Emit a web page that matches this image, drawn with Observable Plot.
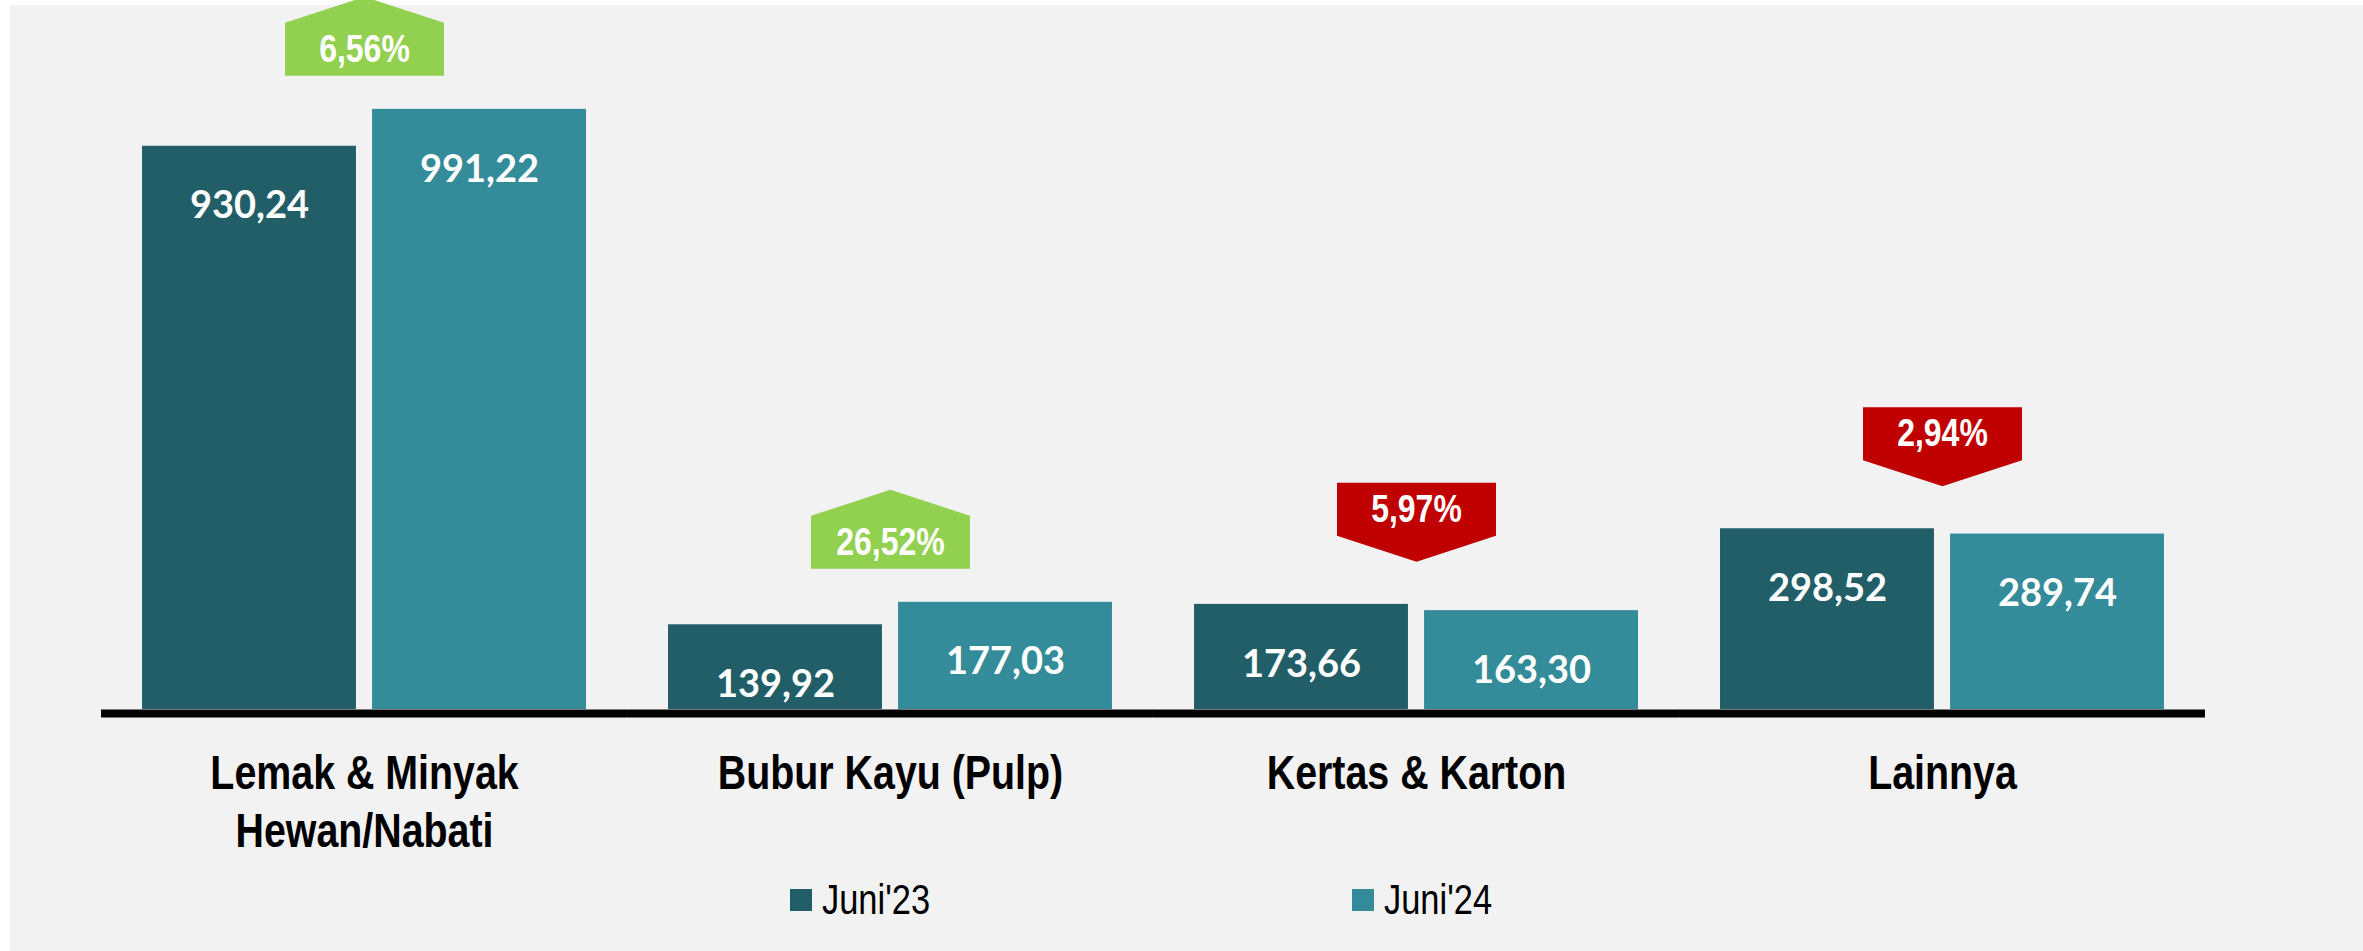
<!DOCTYPE html>
<html>
<head>
<meta charset="utf-8">
<script src="https://cdn.jsdelivr.net/npm/d3@7"></script>
<script src="https://cdn.jsdelivr.net/npm/@observablehq/plot@0.6"></script>
<style>
  html, body { margin: 0; padding: 0; background: #ffffff; overflow: hidden; }
  #bg { position: absolute; left: 10px; top: 5px; width: 2353px; height: 946px; background: #f2f2f2; }
  #chart { position: absolute; left: 0; top: 0; }
  #chart svg { overflow: visible; }
  .legend-item { position: absolute; top: 879px; display: flex; align-items: center; height: 42px;
    font-family: "Liberation Sans", Arial, sans-serif;
    font-size: 42px; line-height: 42px; color: #000; white-space: nowrap; }
  .legend-swatch { width: 22px; height: 22px; margin-right: 10px; flex: none; }
  .legend-text { display: inline-block; transform: scaleX(0.82); transform-origin: left center; }
</style>
</head>
<body>
<div id="bg"></div>
<div id="chart"></div>
<script>
// ---- data ----
const categories = ["Lemak & Minyak\nHewan/Nabati", "Bubur Kayu (Pulp)", "Kertas & Karton", "Lainnya"];
const series = ["Juni'23", "Juni'24"];
const juni23 = [930.24, 139.92, 173.66, 298.52];
const juni24 = [991.22, 177.03, 163.30, 289.74];
const changePct = [6.56, 26.52, -5.97, -2.94];
const seriesColors = ["#225e68", "#348b9a"];
const upColor = "#92d050";
const downColor = "#c00000";

// ---- derived tables ----
const rows = categories.flatMap((c, i) => [
  {category: c, series: series[0], value: juni23[i]},
  {category: c, series: series[1], value: juni24[i]}
]);
const badges = categories.map((c, i) => ({
  category: c,
  top: Math.max(juni23[i], juni24[i]),
  pct: changePct[i],
  label: Math.abs(changePct[i]).toFixed(2).replace(".", ",") + "%"
}));
const up = badges.filter(d => d.pct >= 0);
const down = badges.filter(d => d.pct < 0);

const fmt = v => v.toFixed(2).replace(".", ",");

// badge shapes (pentagon arrows), centred on the rectangle part
const W = 79.5, H = 26.5, T = 26;
const upSymbol = {draw(ctx) {
  ctx.moveTo(-W, H); ctx.lineTo(W, H); ctx.lineTo(W, -H); ctx.lineTo(0, -H - T); ctx.lineTo(-W, -H); ctx.closePath();
}};
const downSymbol = {draw(ctx) {
  ctx.moveTo(-W, -H); ctx.lineTo(W, -H); ctx.lineTo(W, H); ctx.lineTo(0, H + T); ctx.lineTo(-W, H); ctx.closePath();
}};

const sansFont = '"Liberation Sans", Arial, sans-serif';
const valueFont = 'Lato, "Open Sans", sans-serif';
const upOffset = -60, downOffset = -95;

const chart = Plot.plot({
  width: 2363,
  height: 870,
  marginLeft: 101,
  marginRight: 158,
  marginTop: 43,
  marginBottom: 161,
  style: {background: "transparent", overflow: "visible"},
  fx: {domain: categories, paddingInner: 0.156, paddingOuter: 0.078, round: false},
  x: {domain: series, paddingInner: 0.07, paddingOuter: 0, round: false, axis: null},
  y: {domain: [0, 1100], axis: null},
  color: {domain: series, range: seriesColors},
  marks: [
    Plot.barY(rows, {fx: "category", x: "series", y: "value", fill: "series"}),
    Plot.ruleY([0], {stroke: "#000", strokeWidth: 8, dy: 4, insetLeft: -41, insetRight: -41}),
    Plot.text(rows, {fx: "category", x: "series", y: "value", text: d => fmt(d.value), dy: 60,
      fill: "#fff", fontSize: 38, fontWeight: "bold", fontFamily: valueFont}),
    Plot.dot(up, {fx: "category", y: "top", dy: upOffset, symbol: upSymbol, fill: upColor, stroke: "none"}),
    Plot.dot(down, {fx: "category", y: "top", dy: downOffset, symbol: downSymbol, fill: downColor, stroke: "none"}),
    Plot.text(up, {fx: "category", y: "top", dy: upOffset, text: "label", fill: "#fff", fontSize: 39,
      fontWeight: "bold", fontFamily: sansFont}),
    Plot.text(down, {fx: "category", y: "top", dy: downOffset, text: "label", fill: "#fff", fontSize: 39,
      fontWeight: "bold", fontFamily: sansFont}),
    Plot.axisFx({anchor: "bottom", tickSize: 0, tickPadding: 39, label: null, fontSize: 48,
      fontWeight: "bold", fontFamily: sansFont, lineHeight: 1.2, fill: "#000"})
  ]
});
document.getElementById("chart").appendChild(chart);

// narrow (Arial Narrow-like) rendering: compress glyphs horizontally around each label's anchor
function narrow(nodes, s) {
  nodes.forEach(node => {
    const ax = +node.getAttribute("x") || 0;
    const t = node.getAttribute("transform") || "";
    node.setAttribute("transform", `${t} translate(${ax},0) scale(${s},1) translate(${-ax},0)`);
  });
}
const svg = chart.tagName.toLowerCase() === "svg" ? chart : chart.querySelector("svg");
narrow(Array.from(svg.querySelectorAll("text")).filter(n => /%$/.test(n.textContent.trim())), 0.82);
narrow(svg.querySelectorAll('g[aria-label^="fx-axis"] text'), 0.82);

// legend (HTML, below the SVG)
const legendLeft = [790, 1352];
series.forEach((s, i) => {
  const item = document.createElement("div");
  item.className = "legend-item";
  item.style.left = legendLeft[i] + "px";
  const sw = document.createElement("span");
  sw.className = "legend-swatch";
  sw.style.background = seriesColors[i];
  const tx = document.createElement("span");
  tx.className = "legend-text";
  tx.textContent = s;
  item.appendChild(sw);
  item.appendChild(tx);
  document.body.appendChild(item);
});
</script>
</body>
</html>
